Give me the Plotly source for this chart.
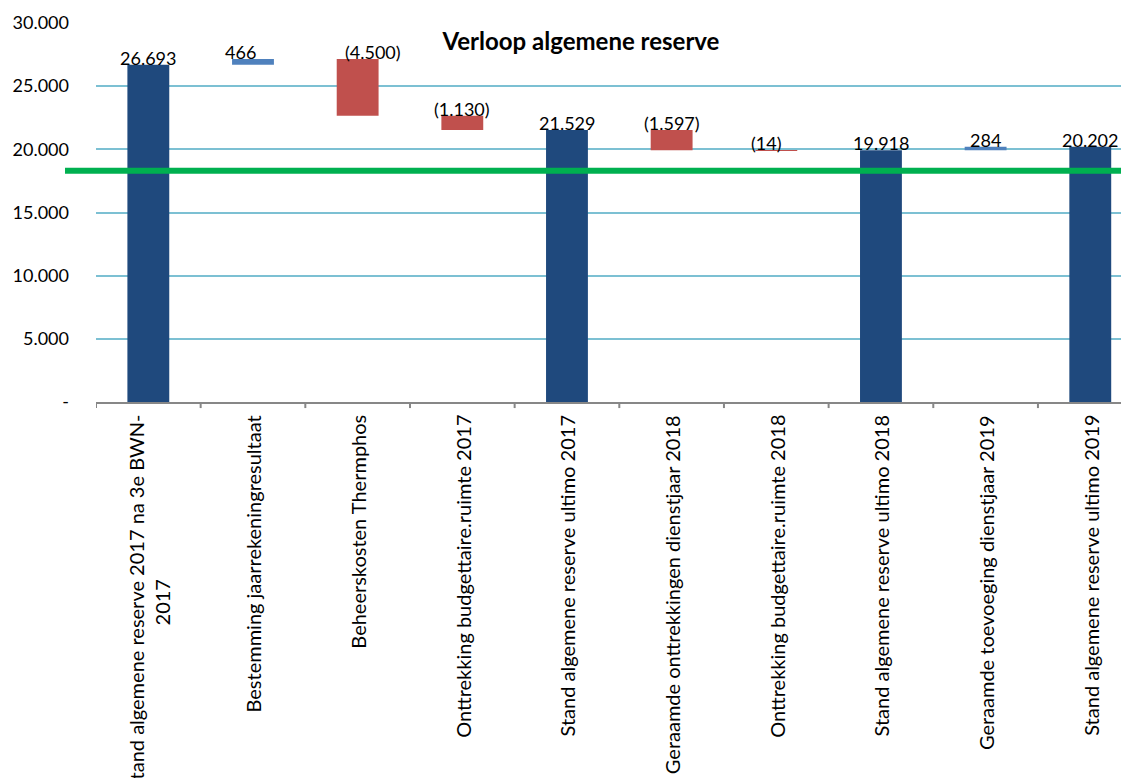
import plotly.graph_objects as go

# ---- data ----
categories = [
    "Stand algemene reserve 2017 na 3e BWN-<br>2017",
    "Bestemming jaarrekeningresultaat",
    "Beheerskosten Thermphos",
    "Onttrekking budgettaire.ruimte 2017",
    "Stand algemene reserve ultimo 2017",
    "Geraamde onttrekkingen dienstjaar 2018",
    "Onttrekking budgettaire.ruimte 2018",
    "Stand algemene reserve ultimo 2018",
    "Geraamde toevoeging dienstjaar 2019",
    "Stand algemene reserve ultimo 2019",
]
measures = ["absolute", "relative", "relative", "relative", "total",
            "relative", "relative", "total", "relative", "total"]
values = [26693, 466, -4500, -1130, 0, -1597, -14, 0, 284, 0]
threshold = 18300  # green reference line
y_tick_vals = [0, 5000, 10000, 15000, 20000, 25000, 30000]
y_tick_text = ["-", "5.000", "10.000", "15.000", "20.000", "25.000", "30.000"]
title_text = "Verloop algemene reserve"

# ---- styles ----
FONT = "Lato"
C_TOTAL = "#1F497D"
C_UP = "#4F81BD"
C_DOWN = "#C0504D"
C_GREEN = "#00B050"
C_GRID = "#7CC0D3"
label_nudge = {1: -12, 2: 15, 6: -10}

W, H = 1121, 770  # page body has an 8px margin


def fmt(v):
    s = f"{abs(int(round(v))):,}".replace(",", ".")
    return f"({s})" if v < 0 else s


# running level and label positions (tops of bars)
level = 0
tops, labels = [], []
for m, v in zip(measures, values):
    if m == "absolute":
        level = v
        tops.append(v)
        labels.append(fmt(v))
    elif m == "total":
        tops.append(level)
        labels.append(fmt(level))
    else:
        prev = level
        level = level + v
        tops.append(max(prev, level))
        labels.append(fmt(v))

xs = list(range(len(categories)))

fig = go.Figure()
fig.add_trace(go.Waterfall(
    x=xs,
    measure=measures,
    y=values,
    width=0.4,
    increasing=dict(marker=dict(color=C_UP, line=dict(width=0))),
    decreasing=dict(marker=dict(color=C_DOWN, line=dict(width=0))),
    totals=dict(marker=dict(color=C_TOTAL, line=dict(width=0))),
    connector=dict(visible=False),
    textposition="none",
    hoverinfo="skip",
    showlegend=False,
))

# value labels
for i, (t, lab) in enumerate(zip(tops, labels)):
    fig.add_annotation(
        x=i, y=t, text=lab, showarrow=False,
        yanchor="bottom", xanchor="center", yshift=-6,
        xshift=label_nudge.get(i, 0),
        font=dict(family=FONT, size=18, color="black"),
    )

# category labels (rotated, lines centred on each other)
for i, cat in zip(xs, categories):
    fig.add_annotation(
        x=i, xref="x", y=0, yref="paper", text=cat, showarrow=False,
        textangle=-90, align="center",
        xanchor="center", yanchor="top", yshift=-11,
        font=dict(family=FONT, size=20, color="black"),
    )

fig.add_shape(
    type="line", xref="paper", yref="y",
    x0=-0.03, x1=1, y0=threshold, y1=threshold,
    line=dict(color=C_GREEN, width=6), layer="above",
)

fig.update_layout(
    width=W, height=H,
    margin=dict(l=88, r=0, t=15, b=376),
    paper_bgcolor="white", plot_bgcolor="white",
    font=dict(family=FONT, size=18, color="black"),
    title=dict(
        text="<b>" + title_text + "</b>",
        x=(581 - 8) / W, xanchor="center",
        y=1 - (42 - 8) / H, yanchor="middle",
        font=dict(family=FONT, size=24, color="black"),
    ),
    xaxis=dict(
        type="linear",
        range=[-0.5, 9.37],
        tickmode="array",
        tickvals=xs,
        showticklabels=False,
        ticks="",
        showgrid=False,
        zeroline=False,
        showline=True, linecolor="#878787", linewidth=2,
        automargin=False,
    ),
    yaxis=dict(
        range=[0, 30000],
        tickmode="array",
        tickvals=y_tick_vals,
        ticktext=y_tick_text,
        showgrid=True, gridcolor=C_GRID, gridwidth=2,
        zeroline=False,
        showline=False,
        ticks="",
        ticklabelstandoff=26,
        automargin=False,
        tickfont=dict(family=FONT, size=18, color="black"),
    ),
)

# category boundary tick marks
for b in [i - 0.5 for i in xs]:
    fig.add_shape(type="line", xref="x", yref="paper", x0=b, x1=b,
                  y0=0, y1=-0.016, line=dict(color="#878787", width=2))

fig.write_html("out.html")
